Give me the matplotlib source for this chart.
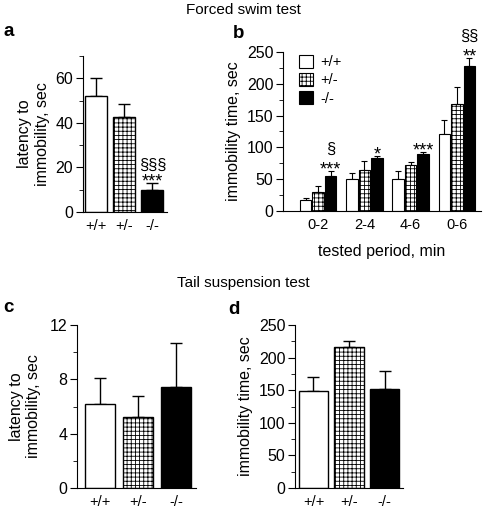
import numpy as np
import matplotlib
matplotlib.use("Agg")
import matplotlib.pyplot as plt
from matplotlib.ticker import MultipleLocator

plt.rcParams['font.family'] = ['Liberation Sans', 'DejaVu Sans']
plt.rcParams['hatch.linewidth'] = 0.6

genotypes = ['+/+', '+/-', '-/-']
periods = ['0-2', '2-4', '4-6', '0-6']

# a: forced swim, latency
fs_lat = [52, 42.5, 10]
fs_lat_err = [8, 6, 3]

# b: forced swim, immobility time per period (rows = genotype)
fs_imm = [[18, 51, 51, 121],
          [30, 65, 72, 168],
          [55, 83, 90, 228]]
fs_imm_err = [[3, 9, 12, 22],
              [9, 13, 5, 27],
              [8, 3, 3, 12]]

# c: tail suspension, latency
ts_lat = [6.2, 5.2, 7.4]
ts_lat_err = [1.9, 1.6, 3.3]

# d: tail suspension, immobility time
ts_imm = [149, 217, 152]
ts_imm_err = [21, 8, 27]

faces = ['white', 'white', 'black']
hatches = ['', '++++', '']

W, H = 487, 511
fig = plt.figure(figsize=(W / 100, H / 100), dpi=100)


def px_axes(left, right, bottom, top):
    return fig.add_axes([left / W, 1 - bottom / H, (right - left) / W, (bottom - top) / H])


def style(ax, ymax, major, minor):
    ax.spines['top'].set_visible(False)
    ax.spines['right'].set_visible(False)
    ax.set_ylim(0, ymax)
    ax.yaxis.set_major_locator(MultipleLocator(major))
    ax.yaxis.set_minor_locator(MultipleLocator(minor))
    ax.tick_params(axis='y', which='major', length=5, labelsize=11.5, pad=2)
    ax.tick_params(axis='y', which='minor', length=3)
    ax.tick_params(axis='x', length=0, labelsize=10.5, pad=5)


def simple_bars(ax, vals, errs, width):
    x = np.arange(len(vals))
    for i in range(len(vals)):
        ax.bar(x[i], vals[i], width, color=faces[i], edgecolor='black', linewidth=1,
               hatch=hatches[i], zorder=2)
        ax.errorbar(x[i], vals[i], yerr=[[0], [errs[i]]], fmt='none', ecolor='black',
                    elinewidth=1, capsize=4, capthick=1, zorder=1)
    ax.set_xticks(x)
    ax.set_xticklabels(genotypes)


def marks(ax, x, top, star, sec, sec_off):
    ax.annotate(star, (x, top), xytext=(0, -2.5), textcoords='offset points',
                ha='center', va='baseline', fontsize=13)
    if sec:
        ax.annotate(sec, (x, top), xytext=(0, sec_off), textcoords='offset points',
                    ha='center', va='baseline', fontsize=12)


# panel a
axa = px_axes(83, 167, 212, 56)
simple_bars(axa, fs_lat, fs_lat_err, 0.78)
axa.set_xlim(-0.46, 2.52)
style(axa, 70, 20, 10)
axa.set_ylabel('latency to\nimmobility, sec', fontsize=11.5, labelpad=4)
marks(axa, 2, fs_lat[2] + fs_lat_err[2], '***', '§§§', 9.5)

# panel b
axb = px_axes(283, 481, 211, 52)
xg = np.arange(len(periods))
offs = [-0.27, 0, 0.27]
for g in range(3):
    axb.bar(xg + offs[g], fs_imm[g], 0.25, color=faces[g], edgecolor='black', linewidth=0.8,
            hatch=hatches[g], label=genotypes[g], zorder=2)
    axb.errorbar(xg + offs[g], fs_imm[g], yerr=[np.zeros(4), fs_imm_err[g]], fmt='none',
                 ecolor='black', elinewidth=0.8, capsize=2.5, capthick=0.8, zorder=1)
axb.set_xlim(-0.76, 3.52)
axb.set_xticks(xg)
axb.set_xticklabels(periods)
style(axb, 250, 50, 25)
axb.set_ylabel('immobility time, sec', fontsize=11.5, labelpad=4)
axb.set_xlabel('tested period, min', fontsize=11.5, labelpad=9)
axb.legend(loc='upper left', bbox_to_anchor=(0.05, 1.02), frameon=False, fontsize=10.5,
           handlelength=1.0, handleheight=1.0, handletextpad=0.5, labelspacing=0.25,
           borderaxespad=0)
marks_b = [(0, '***', '§'), (1, '*', ''), (2, '***', ''), (3, '**', '§§')]
for i, star, sec in marks_b:
    marks(axb, i + offs[2], fs_imm[2][i] + fs_imm_err[2][i], star, sec, 12.5)

# panel c
axc = px_axes(77, 196, 488, 325)
simple_bars(axc, ts_lat, ts_lat_err, 0.8)
axc.set_xlim(-0.61, 2.53)
style(axc, 12, 4, 2)
axc.set_ylabel('latency to\nimmobility, sec', fontsize=11.5, labelpad=6)

# panel d
axd = px_axes(295, 403, 488, 325)
simple_bars(axd, ts_imm, ts_imm_err, 0.82)
axd.set_xlim(-0.52, 2.52)
style(axd, 250, 50, 25)
axd.set_ylabel('immobility time, sec', fontsize=11.5, labelpad=4)

fig.text(243 / W, 1 - 10 / H, 'Forced swim test', ha='center', va='center', fontsize=11)
fig.text(243 / W, 1 - 283 / H, 'Tail suspension test', ha='center', va='center', fontsize=11)
for lab, x, y in [('a', 3, 31), ('b', 233, 33), ('c', 3, 308), ('d', 228, 310)]:
    fig.text(x / W, 1 - y / H, lab, ha='left', va='center', fontsize=13.5, fontweight='bold')

fig.savefig('out.png', dpi=100)
